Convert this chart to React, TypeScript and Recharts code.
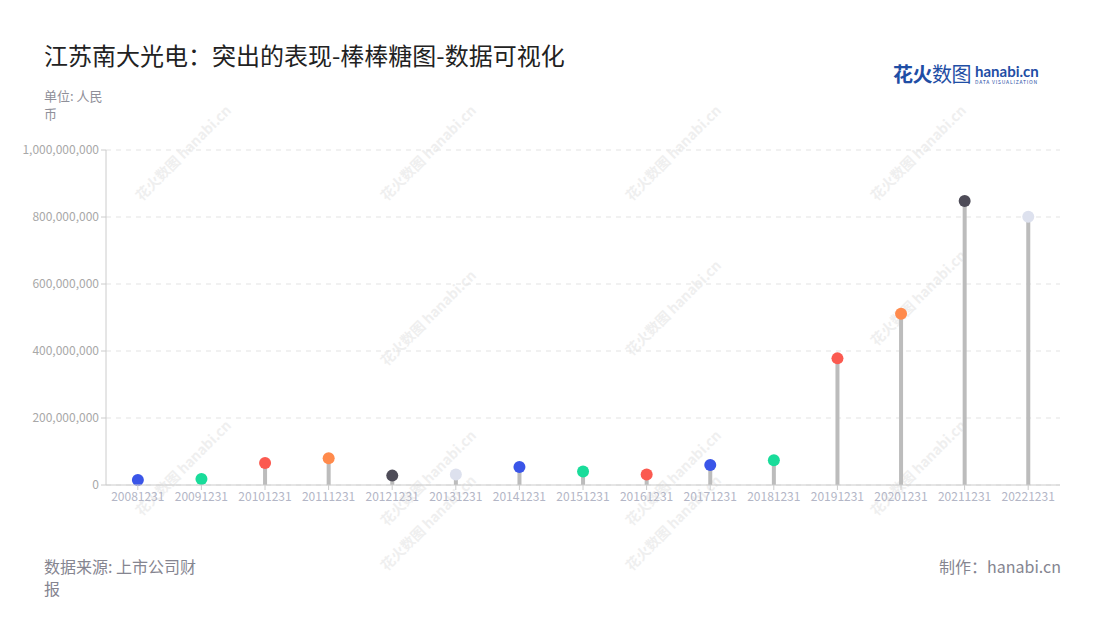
import React from "react";
import { BarChart, Bar, XAxis, YAxis, CartesianGrid } from "recharts";

const categories = ["20081231","20091231","20101231","20111231","20121231","20131231","20141231","20151231","20161231","20171231","20181231","20191231","20201231","20211231","20221231"];
const values = [15000000, 18000000, 66000000, 80000000, 28000000, 31000000, 54000000, 40000000, 31000000, 60000000, 74000000, 378000000, 511000000, 848000000, 801000000];
const pointColors = ["#3a55e8", "#19dc9a", "#fb5a50", "#ff8a4c", "#4e4c58", "#dde1ee", "#3a55e8", "#19dc9a", "#fb5a50", "#3a55e8", "#19dc9a", "#fb5a50", "#ff8a4c", "#4e4c58", "#dde1ee"];
const yTicks = [0, 200000000, 400000000, 600000000, 800000000, 1000000000];

const data = categories.map((c, i) => ({ name: c, value: values[i], color: pointColors[i] }));

const FONT = "'Noto Sans CJK SC', 'Noto Sans', sans-serif";

const Lollipop = (props: any) => {
  const { x, y, width, height, payload } = props;
  const cx = x + width / 2;
  return (
    <g>
      <rect x={cx - 2} y={y} width={4} height={Math.max(0, height)} fill="#bcbcbc" />
      <circle cx={cx} cy={y} r={6} fill={payload.color} />
    </g>
  );
};

const watermarks = [
  [180, 155], [425, 155], [670, 155], [915, 155],
  [425, 320], [670, 310], [915, 300],
  [180, 470], [425, 480], [670, 480], [915, 470],
  [425, 525], [670, 525],
];

export default function App() {
  return (
    <div style={{ position: "absolute", left: 0, top: 0, width: 1100, height: 620, background: "#fff", fontFamily: FONT, overflow: "hidden" }}>
      {watermarks.map(([wx, wy], i) => (
        <div key={i} style={{ position: "absolute", left: wx - 60, top: wy - 10, width: 120, textAlign: "center", transform: "rotate(-45deg)", color: "#efefef", fontSize: 14, fontWeight: 700, whiteSpace: "nowrap", pointerEvents: "none" }}>
          花火数图 hanabi.cn
        </div>
      ))}
      <div style={{ position: "absolute", left: 44, top: 37, fontSize: 24, color: "#222", whiteSpace: "nowrap" }}>
        江苏南大光电：突出的表现-棒棒糖图-数据可视化
      </div>
      <div style={{ position: "absolute", left: 44, top: 87, width: 68, fontSize: 13, lineHeight: "18px", color: "#8f8f99" }}>
        单位: 人民币
      </div>
      <div style={{ position: "absolute", left: 893, top: 59, whiteSpace: "nowrap", display: "flex", alignItems: "center" }}>
        <span style={{ fontSize: 20, fontWeight: 700, color: "#1f4ea5", letterSpacing: -0.5 }}>花火</span>
        <span style={{ fontSize: 20, color: "#1f4ea5", letterSpacing: -0.5 }}>数图</span>
        <span style={{ display: "inline-flex", flexDirection: "column", marginLeft: 4, lineHeight: 1 }}>
          <span style={{ fontSize: 15, fontWeight: 700, color: "#1f4ea5", fontFamily: "Lato, sans-serif" }}>hanabi.cn</span>
          <span style={{ fontSize: 5, color: "#1f4ea5", letterSpacing: 0.8 }}>DATA VISUALIZATION</span>
        </span>
      </div>
      <div style={{ position: "absolute", left: 0, top: 0 }}>
        <BarChart width={1100} height={620} data={data} margin={{ top: 150, right: 40, bottom: 105, left: 0 }}>
          <CartesianGrid vertical={false} stroke="#e3e3e3" strokeDasharray="5 5" />
          <XAxis
            dataKey="name"
            interval={0}
            height={30}
            tickSize={5}
            stroke="#cccccc"
            tick={{ fill: "#b3b6c6", fontSize: 12, fontFamily: FONT }}
          />
          <YAxis
            width={106}
            domain={[0, 1000000000]}
            ticks={yTicks}
            tickSize={5}
            stroke="#cccccc"
            tickFormatter={(v: number) => v.toLocaleString("en-US")}
            tick={{ fill: "#a8a8a8", fontSize: 12, fontFamily: FONT }}
          />
          <Bar dataKey="value" isAnimationActive={false} shape={Lollipop} />
        </BarChart>
      </div>
      <div style={{ position: "absolute", left: 44, top: 555, width: 158, fontSize: 16, lineHeight: "22px", color: "#858590" }}>
        数据来源: 上市公司财报
      </div>
      <div style={{ position: "absolute", right: 39, top: 555, fontSize: 16, lineHeight: "22px", color: "#858590", whiteSpace: "nowrap" }}>
        制作：hanabi.cn
      </div>
    </div>
  );
}
